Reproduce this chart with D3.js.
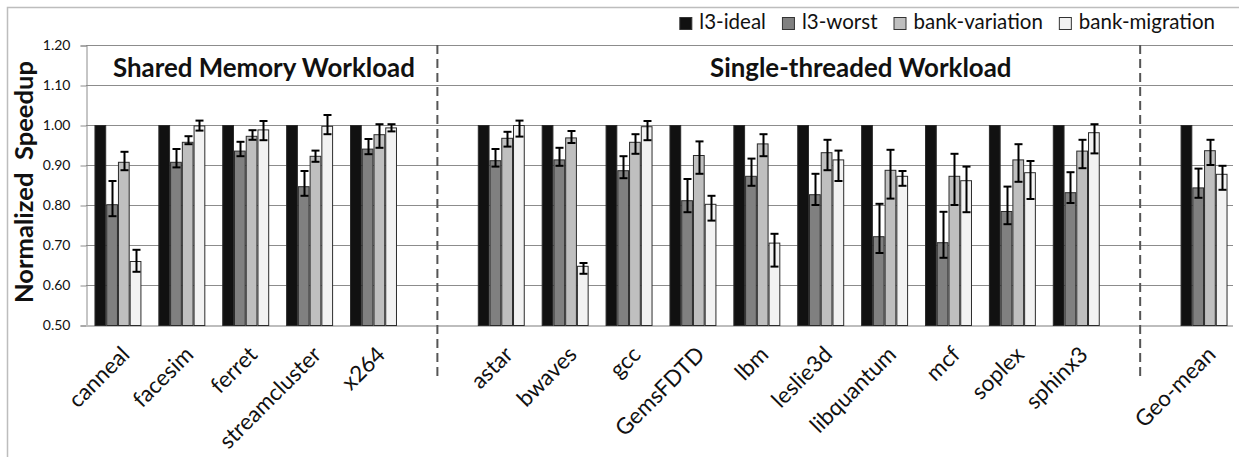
<!DOCTYPE html>
<html>
<head>
<meta charset="utf-8">
<script src="https://cdn.jsdelivr.net/npm/d3@7"></script>
<style>
  body { margin: 0; background: #fff; }
  text { font-family: Lato, "Open Sans", sans-serif; fill: #111; }
</style>
</head>
<body>
<svg id="viz" width="1239" height="457"></svg>
<script>
// categories, two empty slots are the gaps at the dashed lines
let categories = ["canneal", "facesim", "ferret", "streamcluster", "x264", "",
  "astar", "bwaves", "gcc", "GemsFDTD", "lbm", "leslie3d", "libquantum", "mcf",
  "soplex", "sphinx3", "", "Geo-mean"];

let seriesNames = ["l3-ideal", "l3-worst", "bank-variation", "bank-migration"];
let seriesColors = ["#111111", "#808080", "#bfbfbf", "#f2f2f2"];

let l3Ideal = [1, 1, 1, 1, 1, 0.5, 1, 1, 1, 1, 1, 1, 1, 1, 1, 1, null, 1];

let l3Worst   = [0.802, 0.908, 0.936, 0.847, 0.941, null, 0.912, 0.914, 0.887, 0.812, 0.873, 0.827, 0.722, 0.707, 0.785, 0.832, null, 0.844];
let l3WorstHi = [0.860, 0.940, 0.958, 0.885, 0.965, null, 0.940, 0.943, 0.922, 0.865, 0.916, 0.878, 0.803, 0.783, 0.846, 0.882, null, 0.891];
let l3WorstLo = [0.772, 0.894, 0.922, 0.823, 0.927, null, 0.896, 0.898, 0.867, 0.782, 0.848, 0.800, 0.680, 0.668, 0.752, 0.805, null, 0.818];

let bankVar   = [0.908, 0.958, 0.973, 0.923, 0.977, null, 0.968, 0.969, 0.958, 0.925, 0.954, 0.932, 0.888, 0.873, 0.914, 0.936, null, 0.937];
let bankVarHi = [0.933, 0.972, 0.987, 0.936, 1.002, null, 0.983, 0.985, 0.977, 0.959, 0.977, 0.963, 0.938, 0.928, 0.952, 0.963, null, 0.963];
let bankVarLo = [0.887, 0.952, 0.963, 0.908, 0.943, null, 0.946, 0.955, 0.928, 0.878, 0.922, 0.887, 0.816, 0.800, 0.858, 0.892, null, 0.900];

let bankMig   = [0.660, 0.999, 0.989, 0.998, 0.994, null, 1.000, 0.648, 0.997, 0.803, 0.706, 0.914, 0.873, 0.862, 0.882, 0.982, null, 0.878];
let bankMigHi = [0.688, 1.011, 1.010, 1.025, 1.002, null, 1.011, 0.655, 1.010, 0.823, 0.728, 0.936, 0.885, 0.896, 0.910, 1.002, null, 0.898];
let bankMigLo = [0.633, 0.986, 0.962, 0.977, 0.984, null, 0.971, 0.628, 0.962, 0.761, 0.646, 0.860, 0.848, 0.782, 0.815, 0.929, null, 0.838];

let yTicks = [0.5, 0.6, 0.7, 0.8, 0.9, 1.0, 1.1, 1.2];

let groupTitles = ["Shared Memory Workload", "Single-threaded Workload"];
let dividerAfter = [5, 16]; // dashed lines sit in the middle of these slots

// build rows for the bars
let values = [l3Ideal, l3Worst, bankVar, bankMig];
let highs = [null, l3WorstHi, bankVarHi, bankMigHi];
let lows = [null, l3WorstLo, bankVarLo, bankMigLo];
let bars = [];
categories.forEach((c, i) => {
  seriesNames.forEach((s, j) => {
    if (values[j][i] == null) return;
    bars.push({ cat: i, series: s, color: seriesColors[j], v: values[j][i],
      hi: highs[j] ? highs[j][i] : null, lo: lows[j] ? lows[j][i] : null });
  });
});

// scale font size so a text node gets a given width (Calibri is narrower than Lato)
function fitWidth(sel, target) {
  let w = sel.node().getComputedTextLength();
  let fs = +sel.attr("font-size");
  let nfs = fs * target / w;
  sel.attr("font-size", nfs);
  return nfs;
}

let svg = d3.select("#viz");
let plotLeft = 86, plotRight = 1236, plotTop = 45, plotBottom = 325;

// outer frame
svg.append("rect")
  .attr("x", 7.5).attr("y", 7.5)
  .attr("width", 1250).attr("height", 470)
  .attr("fill", "none").attr("stroke", "#bdbdbd").attr("stroke-width", 1.5);

let xScale = d3.scaleBand().domain(d3.range(categories.length))
  .range([plotLeft, plotRight]).paddingInner(0.265).paddingOuter(0.1325);
let xInner = d3.scaleBand().domain(seriesNames).range([0, xScale.bandwidth()]);
let yScale = d3.scaleLinear().domain([0.5, 1.2]).range([plotBottom, plotTop]);

// grid lines
svg.append("g")
  .selectAll("line")
  .data(yTicks.slice(1))
  .enter()
  .append("line")
  .attr("x1", plotLeft).attr("x2", 1233)
  .attr("y1", d => Math.round(yScale(d)) + 0.5)
  .attr("y2", d => Math.round(yScale(d)) + 0.5)
  .attr("stroke", "#8c8c8c").attr("stroke-width", 1);

// y axis
let yAxis = svg.append("g")
  .attr("transform", `translate(${plotLeft + 0.5},0.5)`)
  .call(d3.axisLeft(yScale).tickValues(yTicks).tickFormat(d3.format(".2f"))
    .tickSize(6).tickPadding(10));
yAxis.select(".domain").attr("stroke", "#8c8c8c");
yAxis.selectAll(".tick line").attr("stroke", "#8c8c8c");
yAxis.selectAll(".tick text").attr("font-size", 14).attr("fill", "#111")
  .attr("font-family", "Lato, sans-serif");

// base line
svg.append("line")
  .attr("x1", plotLeft).attr("x2", 1233)
  .attr("y1", plotBottom + 1).attr("y2", plotBottom + 1)
  .attr("stroke", "#bdbdbd").attr("stroke-width", 2);

// bars
svg.append("g")
  .selectAll("rect")
  .data(bars)
  .enter()
  .append("rect")
  .attr("x", d => xScale(d.cat) + xInner(d.series) + 0.5)
  .attr("y", d => yScale(d.v) + 0.5)
  .attr("width", xInner.bandwidth() - 1)
  .attr("height", d => yScale(0.5) - yScale(d.v))
  .attr("fill", d => d.color)
  .attr("stroke", "#2b2b2b").attr("stroke-width", 1);

// error bars
let errs = bars.filter(d => d.hi != null);
let errG = svg.append("g").attr("stroke", "#000").attr("stroke-width", 2);
errs.forEach(d => {
  let cx = Math.round(xScale(d.cat) + xInner(d.series) + xInner.bandwidth() / 2) + 0.5;
  errG.append("line").attr("x1", cx).attr("x2", cx)
    .attr("y1", yScale(d.hi)).attr("y2", yScale(d.lo));
  [d.hi, d.lo].forEach(v => {
    errG.append("line").attr("x1", cx - 4).attr("x2", cx + 4)
      .attr("y1", yScale(v)).attr("y2", yScale(v));
  });
});

// x labels
let xAxis = svg.append("g")
  .attr("transform", `translate(0,${plotBottom})`)
  .call(d3.axisBottom(xScale).tickFormat(i => categories[i]).tickSize(0));
xAxis.select(".domain").remove();
let xLabels = xAxis.selectAll(".tick text")
  .attr("font-size", 21).attr("fill", "#111").attr("font-family", "Lato, sans-serif")
  .attr("text-anchor", "end")
  .attr("dy", 0).attr("y", 0)
  .attr("transform", "translate(13,31) rotate(-45)");
// size the labels from the longest one
let xFs = fitWidth(xLabels.filter((d, i) => i === 3), 133);
xLabels.attr("font-size", xFs);

// dashed separators
svg.append("g")
  .selectAll("line")
  .data(dividerAfter)
  .enter()
  .append("line")
  .attr("x1", d => xScale(d) + xScale.bandwidth() / 2)
  .attr("x2", d => xScale(d) + xScale.bandwidth() / 2)
  .attr("y1", plotTop).attr("y2", 380)
  .attr("stroke", "#555").attr("stroke-width", 2).attr("stroke-dasharray", "9,5");

// group titles (text boxes placed by hand in the original)
let titleX = [113, 710];
let titles = svg.append("g")
  .selectAll("text")
  .data(groupTitles)
  .enter()
  .append("text")
  .attr("x", (d, i) => titleX[i])
  .attr("y", 77)
  .attr("font-size", 24).attr("font-weight", "bold")
  .text(d => d);
let tFs = fitWidth(titles.filter((d, i) => i === 0), 302);
titles.attr("font-size", tFs);

// y title
let yTitle = svg.append("text")
  .attr("transform", `translate(33,${(plotTop + plotBottom) / 2 - 3}) rotate(-90)`)
  .attr("text-anchor", "middle")
  .attr("font-size", 23).attr("font-weight", "bold")
  .style("white-space", "pre")
  .text("Normalized  Speedup");
fitWidth(yTitle, 242);

// legend, laid out right to left from the right edge
let legend = svg.append("g");
let lx = 1215;
for (let j = seriesNames.length - 1; j >= 0; j--) {
  let t = legend.append("text").attr("y", 29).attr("font-size", 20.5)
    .attr("text-anchor", "end").attr("x", lx).text(seriesNames[j]);
  let w = t.node().getComputedTextLength();
  legend.append("rect")
    .attr("x", lx - w - 19.5).attr("y", 17.5)
    .attr("width", 12).attr("height", 12)
    .attr("fill", seriesColors[j]).attr("stroke", "#333");
  lx = lx - w - 36;
}
</script>
</body>
</html>
